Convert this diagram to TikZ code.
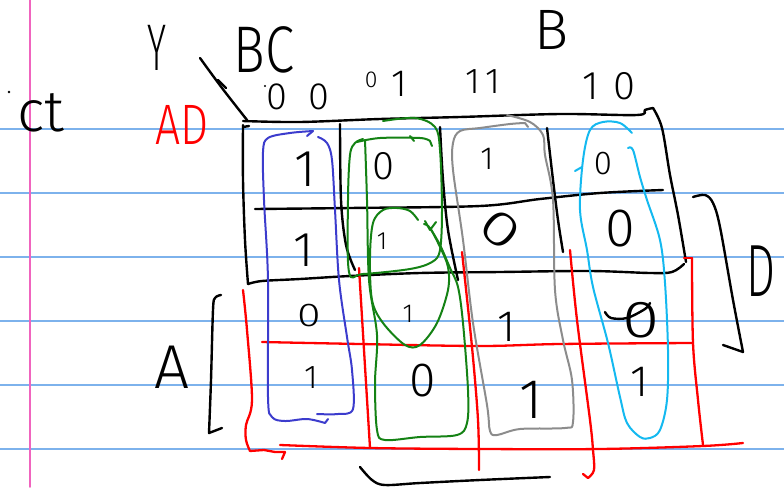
\documentclass[tikz,border=0pt]{standalone}
\usepackage{fontspec}
\setmainfont{Fira Sans Light}
\definecolor{paperline}{RGB}{125,178,236}
\definecolor{marginline}{RGB}{240,100,190}
\definecolor{loopblue}{RGB}{60,60,205}
\definecolor{loopgreen}{RGB}{20,130,20}
\definecolor{loopgray}{RGB}{140,140,140}
\definecolor{loopcyan}{RGB}{20,185,240}
\begin{document}
\begin{tikzpicture}[x=1pt,y=-1pt,line cap=round,line join=round,
  ink/.style={line width=2.4pt,black},
  redink/.style={line width=2.3pt,red},
  loop/.style={line width=2pt,#1},
  sm/.style={smooth,tension=0.55},
  dig/.style={inner sep=0pt,font=\fontsize{#1}{#1}\selectfont}]
\useasboundingbox (0,0) rectangle (784,487);
\fill[white] (0,0) rectangle (784,487);
\clip (0,0) rectangle (784,487);

% ruled paper
\foreach \yy in {129,193,257,321,385,449}
  \draw[paperline,line width=1.5pt] (0,\yy) -- (784,\yy);
\draw[marginline,line width=1.8pt] (30,0) -- (30,487);

% heading scribbles
\fill (9,92) circle (1.3);
\node[dig=58,anchor=base west] (ct) at (17,131) {ct};
\node[dig=66] (yl) at (157,48) {\scalebox{0.55}[1]{Y}};
\node[dig=66] (bc) at (264,50) {\scalebox{0.8}[1]{BC}};
\node[dig=57] (bl) at (552,30) {B};
\node[dig=57,red] (adl) at (182,125) {\scalebox{0.78}[1]{AD}};
\node[dig=62] (al) at (172,367) {A};
\node[dig=74,anchor=west] (dl) at (746,271) {\scalebox{0.62}[1]{D}};

% column labels
\fill (265,86) circle (1.2);
\node[dig=38] (c00) at (298,97) {0\hspace{22pt}0};
\node[dig=38] (c01) at (386,84) {\raisebox{9pt}{\fontsize{23}{23}\selectfont 0}\hspace{14pt}1};
\node[dig=36] (c11) at (483,82) {1\hspace{5pt}1};
\node[dig=40] (c10) at (609,86) {1\hspace{14pt}0};

% corner separator
\draw[ink] plot[sm] coordinates {(200,58) (222,88) (247,120)};
\draw[ink] (218,80) -- (226,88);

% black grid (rows 1-2)
\draw[ink] plot[sm] coordinates {(243,121) (300,122) (380,119) (460,117) (560,114) (637,115) (645,110) (653,108)};
\draw[ink] plot[sm] coordinates {(653,108) (662,128) (670,175) (678,215) (686,262)};
\draw[ink] plot[sm] coordinates {(243,125) (243,180) (245,240) (248,284)};
\draw[ink] (243,127) -- (249,126);
\draw[ink] plot[sm] coordinates {(248,284) (262,281) (300,279) (350,276) (420,273) (500,272) (590,271) (650,273) (672,272) (684,264)};
\draw[ink] plot[sm] coordinates {(255,209) (350,208) (480,206) (540,199) (600,193) (663,190)};
\draw[ink] plot[sm] coordinates {(340,124) (341,200) (346,245) (355,270)};
\draw[ink] plot[sm] coordinates {(440,127) (443,180) (448,230) (458,280)};
\draw[ink] plot[sm] coordinates {(547,128) (553,180) (558,220) (563,252)};

% side brackets
\draw[ink] plot[sm] coordinates {(221,295) (215,298) (213,310) (211,380) (209,433)} -- (222,428);
\draw[ink] plot[sm] coordinates {(693,197) (705,195) (713,203) (720,227) (733,300) (743,352)} -- (723,345);
\draw[ink] plot[sm] coordinates {(360,467) (372,480) (385,485) (420,483) (480,480) (550,477)};

% red grid (rows 3-4)
\draw[redink] plot[sm] coordinates {(243,290) (247,330) (252,400) (246,425) (246,440) (250,451)} -- (264,450) -- (275,452) -- (285,452) -- (282,459);
\draw[redink] plot[sm] coordinates {(262,342) (360,344) (480,346) (560,344) (693,343)};
\draw[redink] plot[sm] coordinates {(280,445) (370,448) (480,449) (600,449) (703,446) (743,443)};
\draw[redink] plot[sm] coordinates {(359,268) (364,350) (370,448)};
\draw[redink] plot[sm] coordinates {(462,252) (472,347) (478,420) (479,470)};
\draw[redink] plot[sm] coordinates {(570,250) (577,320) (590,420) (593,450) (594,470) (588,478)} -- (583,474);
\draw[redink] (684,258) -- (692,258);
\draw[redink] plot[sm] coordinates {(692,258) (693,343) (698,400) (703,445)};

% blue group
\draw[loop=loopblue] (307,136) -- (313,131);
\draw[loop=loopblue] plot[sm] coordinates {(313,131) (290,133) (268,138) (263,152) (264,200) (268,280) (268,397) (272,417) (285,421) (307,419) (325,423)} -- (328,419);
\draw[loop=loopblue] plot[sm] coordinates {(318,137) (327,143) (332,160) (335,210) (339,280) (347,337) (352,370) (353,409) (338,414) (317,414)};

% green groups
\draw[loop=loopgreen] plot[sm] coordinates {(383,121) (415,118) (435,127) (440,150) (442,210) (440,250) (432,262) (410,269) (363,274) (349,272) (348,200) (350,155) (355,143) (363,139)};
\draw[loop=loopgreen] plot[sm] coordinates {(357,142) (380,138) (420,138) (430,141)} -- (432,146);
\draw[loop=loopgreen] (410,136) -- (414,141);
\draw[loop=loopgreen] plot[sm] coordinates {(365,140) (367,200) (369,280) (377,335) (375,383) (377,430) (385,440) (420,437) (457,435) (467,423) (468,390) (463,323) (458,287) (450,268) (440,245) (430,228)};
\draw[loop=loopgreen] plot[sm] coordinates {(418,220) (410,211) (397,208) (383,210) (373,223) (370,257) (372,300) (383,323) (405,345) (420,345) (437,323) (448,290) (448,267) (440,247) (430,228) (424,224)};
\draw[loop=loopgreen] (425,221) -- (430,230) -- (436,222);

% gray group
\draw[loop=loopgray] plot[sm] coordinates {(507,115) (530,122) (543,135) (545,155) (553,200) (555,290) (563,340) (572,380) (573,422) (565,428) (520,429) (497,435) (490,431) (487,405) (473,323) (463,240) (453,170) (453,143) (460,131) (480,128) (510,124) (525,123)} -- (528,127);

% cyan group
\draw[loop=loopcyan] plot[sm] coordinates {(632,133) (620,123) (603,122) (590,130) (583,160) (580,210) (587,250) (593,287) (608,343) (620,397) (627,423) (640,437) (650,438) (660,430) (667,400) (668,350) (665,283) (660,240) (647,200) (640,177) (633,150) (628,148)};
\draw[loop=loopcyan] (575,171) -- (582,167);

% cell entries
\node[dig=52] (r1c1) at (305,169) {1};
\node[dig=40] (r1c2) at (383,166) {0};
\node[dig=32] (r1c3) at (487,159) {1};
\node[dig=33] (r1c4) at (603,164) {0};
\node[dig=49] (r2c1) at (304,250) {1};
\node[dig=25] (r2c2) at (382,241) {1};
\node[dig=48,rotate=-40] (r2c3) at (500,230) {\scalebox{1.45}[1]{0}};
\node[dig=54] (r2c4) at (620,229) {0};
\node[dig=33] (r3c1) at (309,316) {\scalebox{1.3}[1]{0}};
\node[dig=26] (r3c2) at (408,314) {1};
\node[dig=44] (r3c3) at (507,327) {1};
\node[dig=52] (r3c4) at (641,320) {\scalebox{1.3}[1]{0}};
\draw[ink] plot[sm] coordinates {(605,312) (611,318) (627,318) (645,309) (650,303)};
\node[dig=33] (r4c1) at (311,378) {1};
\node[dig=48] (r4c2) at (423,381) {0};
\node[dig=56] (r4c3) at (531,400) {1};
\node[dig=44] (r4c4) at (640,382) {1};
\end{tikzpicture}
\end{document}
